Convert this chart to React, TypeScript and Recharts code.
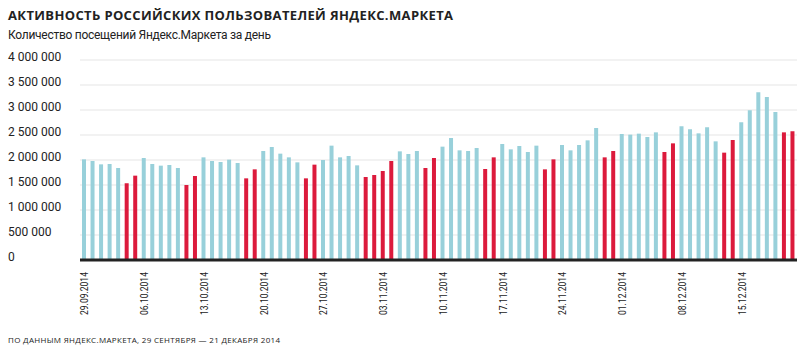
import React from 'react';
import { BarChart, Bar, XAxis, YAxis, CartesianGrid, Cell } from 'recharts';

const startDate = { year: 2014, month: 8, day: 29 }; // 29.09.2014 (month is 0-based)

const visits: number[] = [
  2013000, 1980000, 1913000, 1920000, 1840000, 1533000, 1687000,
  2040000, 1920000, 1887000, 1900000, 1840000, 1500000, 1680000,
  2053000, 1980000, 1960000, 2007000, 1940000, 1633000, 1813000,
  2180000, 2260000, 2127000, 2053000, 1953000, 1633000, 1907000,
  2000000, 2287000, 2053000, 2080000, 1893000, 1660000, 1700000,
  1780000, 1980000, 2173000, 2120000, 2180000, 1840000, 2040000,
  2267000, 2440000, 2193000, 2180000, 2240000, 1820000, 2053000,
  2320000, 2213000, 2280000, 2160000, 2287000, 1813000, 2013000,
  2300000, 2193000, 2300000, 2393000, 2640000, 2053000, 2180000,
  2520000, 2507000, 2527000, 2460000, 2553000, 2160000, 2333000,
  2673000, 2613000, 2533000, 2653000, 2373000, 2147000, 2400000,
  2753000, 2993000, 3353000, 3260000, 2960000, 2553000, 2573000,
];

// extra non-working days besides weekends (transferred holiday + National Unity Day)
const holidays: string[] = ['03.11.2014', '04.11.2014'];

const yTicks: number[] = [0, 500000, 1000000, 1500000, 2000000, 2500000, 3000000, 3500000, 4000000];

const pad = (n: number) => (n < 10 ? '0' + n : '' + n);

const dates: { label: string; weekday: number }[] = visits.map((_, i) => {
  const d = new Date(startDate.year, startDate.month, startDate.day + i);
  return {
    label: `${pad(d.getDate())}.${pad(d.getMonth() + 1)}.${d.getFullYear()}`,
    weekday: d.getDay(),
  };
});

const data = visits.map((v, i) => ({
  date: dates[i].label,
  value: v,
  off: dates[i].weekday === 0 || dates[i].weekday === 6 || holidays.includes(dates[i].label),
}));

const BLUE = '#98d0da';
const RED = '#dc1a3c';
const FONT = 'Roboto, "Noto Sans", sans-serif';

const fmt = (v: number) => v.toLocaleString('en-US').replace(/,/g, ' ');

const YTick = (props: any) => {
  const { y, payload } = props;
  return (
    <text x={8} y={y + 1} textAnchor="start" fontSize={12} fill="#222" fontFamily={FONT}>
      {fmt(payload.value)}
    </text>
  );
};

const XTick = (props: any) => {
  const { x, payload } = props;
  return (
    <text
      transform={`translate(${x + 4}, 315) rotate(-90)`}
      textAnchor="start"
      fontSize={11}
      fill="#222"
      fontFamily={FONT}
      textLength={43}
      lengthAdjust="spacingAndGlyphs"
    >
      {payload.value}
    </text>
  );
};

export default function App() {
  return (
    <div style={{ position: 'absolute', left: 0, top: 0, width: 805, height: 351, background: '#fff' }}>
      <BarChart
        width={805}
        height={351}
        data={data}
        margin={{ top: 60, right: 8, bottom: 0, left: 8 }}
        barCategoryGap={0}
      >
        <CartesianGrid horizontal={true} vertical={false} stroke="#e6e6e6" strokeWidth={1.2} />
        <YAxis
          width={72}
          domain={[0, 4000000]}
          ticks={yTicks}
          axisLine={false}
          tickLine={false}
          tick={<YTick />}
          interval={0}
        />
        <XAxis
          dataKey="date"
          height={91}
          interval={6}
          tickLine={false}
          axisLine={{ stroke: '#222', strokeWidth: 3 }}
          tick={<XTick />}
        />
        <Bar dataKey="value" barSize={4} isAnimationActive={false}>
          {data.map((d, i) => (
            <Cell key={i} fill={d.off ? RED : BLUE} />
          ))}
        </Bar>
      </BarChart>
      <svg width={805} height={351} style={{ position: 'absolute', left: 0, top: 0, pointerEvents: 'none' }}>
        <text x={8} y={19.5} fontSize={13} fontWeight={700} fill="#222" fontFamily={'"Open Sans", sans-serif'} textLength={445}>
          АКТИВНОСТЬ РОССИЙСКИХ ПОЛЬЗОВАТЕЛЕЙ ЯНДЕКС.МАРКЕТА
        </text>
        <text x={8} y={39} fontSize={12} fill="#222" fontFamily={FONT} textLength={263}>
          Количество посещений Яндекс.Маркета за день
        </text>
        <text x={8} y={343} fontSize={8} fill="#222" fontFamily={'"Open Sans", sans-serif'} textLength={272}>
          ПО ДАННЫМ ЯНДЕКС.МАРКЕТА, 29 СЕНТЯБРЯ — 21 ДЕКАБРЯ 2014
        </text>
      </svg>
    </div>
  );
}
